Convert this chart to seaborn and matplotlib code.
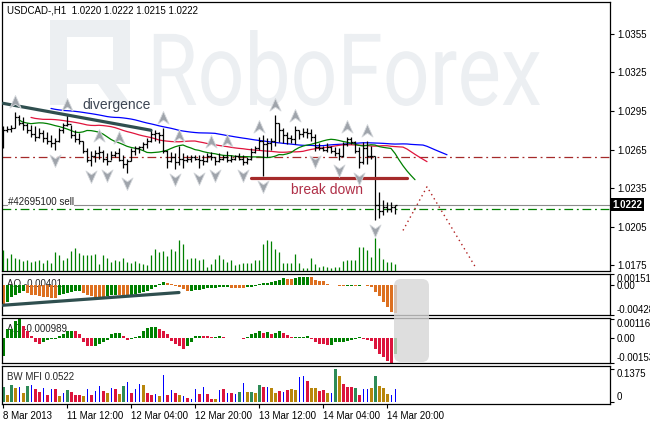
import numpy as np
import pandas as pd
import matplotlib
matplotlib.use('Agg')
import matplotlib.pyplot as plt
import seaborn as sns
from matplotlib.path import Path
from matplotlib.patches import FancyBboxPatch, Polygon, PathPatch
from matplotlib.textpath import TextPath
from matplotlib.font_manager import FontProperties
from matplotlib.transforms import offset_copy, blended_transform_factory

# USDCAD H1, 8 Mar 2013 20:00 .. 14 Mar 2013 22:00 (99 bars)
first_open = 1.0278
highs = [1.0283, 1.0283, 1.0284, 1.0294, 1.0292, 1.0290, 1.0286, 1.0284, 1.0283, 1.0282,
         1.0280, 1.0279, 1.0276, 1.0274, 1.0282, 1.0286, 1.0292, 1.0284, 1.0280, 1.0278,
         1.0272, 1.0266, 1.0264, 1.0265, 1.0268, 1.0265, 1.0262, 1.0264, 1.0264, 1.0266,
         1.0261, 1.0258, 1.0266, 1.0268, 1.0268, 1.0271, 1.0274, 1.0280, 1.0280, 1.0279,
         1.0282, 1.0265, 1.0263, 1.0262, 1.0268, 1.0262, 1.0261, 1.0261, 1.0261, 1.0261,
         1.0261, 1.0262, 1.0263, 1.0259, 1.0262, 1.0261, 1.0264, 1.0261, 1.0261, 1.0262,
         1.0261, 1.0259, 1.0266, 1.0268, 1.0275, 1.0276, 1.0274, 1.0274, 1.0292, 1.0286,
         1.0282, 1.0279, 1.0276, 1.0283, 1.0280, 1.0282, 1.0282, 1.0281, 1.0277, 1.0270,
         1.0268, 1.0270, 1.0268, 1.0267, 1.0266, 1.0271, 1.0275, 1.0275, 1.0272, 1.0267,
         1.0271, 1.0272, 1.0268, 1.0260, 1.0232, 1.0226, 1.0224, 1.0224, 1.0222]
lows = [1.0266, 1.0279, 1.0279, 1.0282, 1.0284, 1.0280, 1.0278, 1.0275, 1.0272, 1.0274,
        1.0271, 1.0269, 1.0267, 1.0265, 1.0271, 1.0278, 1.0283, 1.0274, 1.0271, 1.0269,
        1.0262, 1.0255, 1.0252, 1.0255, 1.0258, 1.0255, 1.0253, 1.0257, 1.0259, 1.0256,
        1.0251, 1.0247, 1.0256, 1.0261, 1.0262, 1.0265, 1.0266, 1.0271, 1.0272, 1.0270,
        1.0262, 1.0251, 1.0255, 1.0250, 1.0253, 1.0251, 1.0255, 1.0255, 1.0257, 1.0251,
        1.0253, 1.0255, 1.0257, 1.0253, 1.0255, 1.0257, 1.0255, 1.0255, 1.0257, 1.0257,
        1.0253, 1.0254, 1.0257, 1.0262, 1.0265, 1.0244, 1.0259, 1.0265, 1.0268, 1.0271,
        1.0270, 1.0269, 1.0270, 1.0269, 1.0273, 1.0275, 1.0274, 1.0272, 1.0264, 1.0265,
        1.0264, 1.0263, 1.0262, 1.0260, 1.0257, 1.0259, 1.0268, 1.0269, 1.0262, 1.0251,
        1.0254, 1.0254, 1.0258, 1.0210, 1.0212, 1.0214, 1.0216, 1.0216, 1.0215]
closes = [1.0280, 1.0281, 1.0282, 1.0290, 1.0286, 1.0284, 1.0280, 1.0277, 1.0275, 1.0278,
          1.0274, 1.0272, 1.0270, 1.0272, 1.0280, 1.0284, 1.0285, 1.0276, 1.0273, 1.0272,
          1.0264, 1.0257, 1.0260, 1.0262, 1.0263, 1.0258, 1.0256, 1.0261, 1.0262, 1.0257,
          1.0254, 1.0256, 1.0264, 1.0266, 1.0267, 1.0269, 1.0272, 1.0277, 1.0278, 1.0276,
          1.0264, 1.0256, 1.0259, 1.0255, 1.0258, 1.0257, 1.0258, 1.0259, 1.0258, 1.0257,
          1.0256, 1.0260, 1.0259, 1.0256, 1.0258, 1.0259, 1.0257, 1.0258, 1.0260, 1.0258,
          1.0255, 1.0258, 1.0263, 1.0266, 1.0272, 1.0269, 1.0270, 1.0272, 1.0286, 1.0280,
          1.0276, 1.0274, 1.0273, 1.0280, 1.0277, 1.0279, 1.0278, 1.0275, 1.0267, 1.0266,
          1.0265, 1.0267, 1.0264, 1.0262, 1.0260, 1.0269, 1.0273, 1.0271, 1.0264, 1.0255,
          1.0266, 1.0260, 1.0260, 1.0222, 1.0217, 1.0220, 1.0219, 1.0220, 1.0222]
tick_volume = [2100, 1300, 1700, 1300, 1200, 1000, 1100, 900, 1000, 1100,
               800, 1100, 800, 1900, 1600, 1100, 1300, 2000, 2300, 1800,
               1600, 1600, 1600, 1700, 700, 1600, 1300, 900, 1100, 1000,
               1300, 900, 800, 1000, 800, 700, 600, 1600, 2200, 1900,
               2000, 1500, 2200, 2000, 3100, 2700, 1200, 1300, 1300, 1100,
               1200, 400, 700, 1200, 1600, 1200, 900, 1100, 600, 700,
               800, 800, 800, 1100, 1100, 2700, 3100, 3000, 2200, 1900,
               800, 800, 800, 1700, 800, 300, 300, 1300, 700, 400,
               500, 400, 300, 400, 400, 1000, 1100, 1100, 1100, 2400,
               2400, 2100, 1400, 3300, 2300, 1200, 900, 900, 700]

ao = [-0.00290, -0.00248, -0.00179, -0.00138, -0.00110, -0.00090, -0.00110, -0.00138, -0.00152, -0.00166,
      -0.00173, -0.00179, -0.00186, -0.00190, -0.00138, -0.00124, -0.00110, -0.00097, -0.00090, -0.00083,
      -0.00110, -0.00138, -0.00159, -0.00173, -0.00179, -0.00186, -0.00166, -0.00152, -0.00145, -0.00152,
      -0.00155, -0.00159, -0.00138, -0.00124, -0.00117, -0.00104, -0.00090, -0.00055, -0.00028, 0.00007,
      0.00041, 0.00028, 0.00014, -0.00014, -0.00035, -0.00062, -0.00090, -0.00083, -0.00076, -0.00069,
      -0.00062, -0.00048, -0.00044, -0.00039, -0.00035, -0.00030, -0.00025, -0.00041, -0.00046, -0.00048,
      -0.00051, -0.00035, -0.00025, -0.00014, 0.00014, 0.00025, 0.00028, 0.00035, 0.00048, 0.00069,
      0.00090, 0.00083, 0.00080, 0.00090, 0.00104, 0.00106, 0.00115, 0.00110, 0.00069, 0.00055,
      0.00046, 0.00014, -0.00004, -0.00008, -0.00014, -0.00018, -0.00015, -0.00014, -0.00017, -0.00012,
      -0.00010, -0.00021, -0.00035, -0.00097, -0.00166, -0.00242, -0.00311, -0.00380, -0.00401]
ac = [-0.001096, 0.000548, 0.000579, 0.001035, 0.001169, 0.000731, 0.000426, 0.000122, -0.000244, -0.000365,
      -0.000244, -0.000122, -0.000061, -0.000030, 0.000122, 0.000244, 0.000426, 0.000457, 0.000426, 0.000244,
      -0.000244, -0.000487, -0.000518, -0.000487, -0.000365, -0.000244, -0.000122, 0.000244, 0.000305, 0.000317,
      0.000122, -0.000122, -0.000061, 0.000079, 0.000152, 0.000426, 0.000609, 0.000670, 0.000682, 0.000548,
      0.000426, 0.000244, -0.000183, -0.000365, -0.000518, -0.000670, -0.000487, -0.000244, 0.000122, 0.000152,
      0.000122, 0.000110, 0.000091, 0.000097, 0.000104, 0.000061, 0.000030, 0.000024, 0.000018, 0.000012,
      -0.000049, 0.000079, 0.000244, 0.000335, 0.000457, 0.000305, 0.000365, 0.000244, 0.000305, 0.000426,
      0.000335, 0.000183, 0.000049, 0.000061, 0.000073, 0.000085, 0.000152, -0.000061, -0.000244, -0.000365,
      -0.000396, -0.000426, -0.000414, -0.000274, -0.000262, -0.000231, -0.000171, -0.000104, -0.000061, 0.000061,
      -0.000030, -0.000122, -0.000164, -0.000670, -0.000974, -0.001188, -0.001401, -0.001530, -0.000989]
bw_mfi = [0.0615, 0.0299, 0.0709, 0.0586, 0.0615, 0.0381, 0.0656, 0.0709, 0.0521, 0.0410,
          0.0574, 0.0299, 0.0545, 0.0545, 0.0246, 0.0381, 0.0504, 0.0410, 0.0299, 0.0299,
          0.0246, 0.0545, 0.0299, 0.0439, 0.0656, 0.0451, 0.0381, 0.0574, 0.0545, 0.0340,
          0.0644, 0.0820, 0.0381, 0.0521, 0.0750, 0.0709, 0.0381, 0.0275, 0.0316, 0.0246,
          0.1119, 0.0299, 0.0480, 0.0381, 0.0299, 0.0246, 0.0176, 0.0135, 0.0545, 0.0316,
          0.0615, 0.0316, 0.0135, 0.0111, 0.0480, 0.0521, 0.0381, 0.0381, 0.0328, 0.0410,
          0.0779, 0.0410, 0.0410, 0.0381, 0.0709, 0.0615, 0.0615, 0.0574, 0.0381, 0.0463,
          0.0410, 0.0504, 0.0545, 0.0504, 0.1025, 0.1066, 0.0861, 0.0586, 0.0586, 0.0439,
          0.0480, 0.0381, 0.0381, 0.1375, 0.1054, 0.0750, 0.0615, 0.0615, 0.0586, 0.0299,
          0.0545, 0.0545, 0.0586, 0.1054, 0.0656, 0.0586, 0.0340, 0.0299, 0.0522]
# G = green, F = fade, B = fake, S = squat
mfi_zone = ("GFGFBFGBSS" "BSBSFBGSSS" "FBSBBSFBSF" "GBSBBFSSBF" "BSBSFBSBBS"
            "BSSFBSBSBG" "BFGFGSBFFS" "BSFFBBSFFS" "SFBGFSSSGS" "BBFGFFFBB")

fractal_up_bars = [3, 16, 24, 29, 40, 44, 52, 56, 64, 68, 73, 86, 91]
fractal_down_bars = [13, 22, 26, 31, 43, 49, 53, 60, 65, 78, 84, 89, 93]

time_ticks = [0, 16, 32, 48, 64, 80, 96]
time_labels = ['8 Mar 2013', '11 Mar 12:00', '12 Mar 04:00', '12 Mar 20:00',
               '13 Mar 12:00', '14 Mar 04:00', '14 Mar 20:00']
price_ticks = [1.0175, 1.0205, 1.0235, 1.0265, 1.0295, 1.0325, 1.0355]

bid = 1.0222
order_price = 1.0219
pending_level = 1.0259
breakdown_level = 1.0243
breakdown_bars = [62, 101]
divergence_bars = [0, 37]
divergence_price = [1.0301, 1.0280]
ao_div_bars = [0, 44]
ao_div_values = [-0.00290, -0.00110]
forecast_bars = [100, 106, 118]
forecast_price = [1.0202, 1.0236, 1.0174]

# alligator: (period, shift, level at left edge, colour)
alligator = [(34, 13, 1.0297, '#0000ff'), (21, 8, 1.0290, '#e0143c'), (8, 5, 1.0288, '#008000')]

sns.set_theme(style='white')
plt.rcParams['font.family'] = ['Liberation Sans', 'DejaVu Sans']
plt.rcParams['axes.linewidth'] = 0.9
plt.rcParams['axes.edgecolor'] = 'black'

n = len(closes)
x = np.arange(n)
highs = np.array(highs)
lows = np.array(lows)
closes = np.array(closes)
opens = np.r_[first_open, closes[:-1]]
median = (highs + lows) / 2

W, H = 650, 422
fig = plt.figure(figsize=(W / 100, H / 100), dpi=100)


def panel(x0, y0, x1, y1):
    return fig.add_axes([x0 / W, 1 - y1 / H, (x1 - x0) / W, (y1 - y0) / H])


ax = panel(2, 2, 610, 271)
ax_ao = panel(2, 274, 610, 315)
ax_ac = panel(2, 318, 610, 363)
ax_mfi = panel(2, 366, 610, 404)

# ---- main chart ----
ax_vol = ax.twinx()
ax_vol.set_ylim(0, 26900)
ax_vol.axis('off')
ax_vol.vlines(x, 0, tick_volume, color='#008000', lw=0.9)

for a in (ax, ax_ao, ax_ac, ax_mfi):
    a.set_xlim(-0.25, 151.75)
    a.yaxis.tick_right()
    a.tick_params(axis='y', left=False, right=True, labelleft=False, labelright=True,
                  length=3, width=0.8, pad=2, labelsize=7, colors='black')
    a.tick_params(axis='x', bottom=False, labelbottom=False)
    for s in a.spines.values():
        s.set_color('black')

ax.set_ylim(1.01704, 1.03799)
ax.set_yticks(price_ticks)
ax.set_yticklabels([f'{p:.4f}' for p in price_ticks])


# RoboForex watermark (logo block + word), placed from pixel spots into axes fractions
def px(xp, yp):
    return ((xp - 2) / 608, (271 - yp) / 269)


wm = '#eceff2'
logo_parts = [
    [(50, 20), (130, 20), (130, 37), (50, 37)],
    [(50, 20), (67, 20), (67, 105), (50, 105)],
    [(113, 20), (130, 20), (130, 84), (113, 84)],
    [(67, 70), (130, 70), (130, 84), (67, 84)],
    [(98, 84), (116, 84), (131, 105), (113, 105)],
]
for part in logo_parts:
    ax.add_patch(Polygon([px(*p) for p in part], closed=True, fc=wm, ec='none',
                         transform=ax.transAxes, zorder=0))

word = TextPath((0, 0), 'RoboForex', size=100, prop=FontProperties(family='Roboto'))
v = word.vertices
sx = (540 - 147) / (v[:, 0].max() - v[:, 0].min())
sy = (105 - 30) / v[:, 1].max()
wx = 147 + (v[:, 0] - v[:, 0].min()) * sx
wy = 105 - v[:, 1] * sy
word_axes = np.column_stack([(wx - 2) / 608, (271 - wy) / 269])
ax.add_patch(PathPatch(Path(word_axes, word.codes), fc=wm, ec='none',
                       transform=ax.transAxes, zorder=0))

for period, shift, start, color in alligator:
    smma = pd.Series(np.r_[start, median]).ewm(alpha=1.0 / period, adjust=False).mean()
    sns.lineplot(x=np.arange(len(smma)) + shift - 1, y=smma.values, ax=ax,
                 color=color, lw=0.9, zorder=2)

ax.vlines(x, lows, highs, color='black', lw=0.9, zorder=3)
ax.hlines(opens, x - 0.45, x, color='black', lw=0.9, zorder=3)
ax.hlines(closes, x, x + 0.45, color='black', lw=0.9, zorder=3)

dash = (0, (7, 3, 1.5, 3))
ax.axhline(pending_level, color='#a52a2a', lw=0.9, ls=dash, zorder=1)
ax.axhline(order_price, color='#008000', lw=0.9, ls=dash, zorder=1)
ax.axhline(bid, color='#8c8c8c', lw=0.8, zorder=1)

sns.lineplot(x=divergence_bars, y=divergence_price, ax=ax, color='#2f4f4f', lw=2.3, zorder=4)
sns.lineplot(x=breakdown_bars, y=[breakdown_level] * 2, ax=ax, color='#a52a2a', lw=2.3, zorder=4)
ax.plot(forecast_bars, forecast_price, color='#b22222', lw=1.0, ls=(0, (1, 2.5)), zorder=4)

dart_up = Path([(0, 1), (0.8, -0.8), (0, -0.25), (-0.8, -0.8), (0, 1)],
               [Path.MOVETO, Path.LINETO, Path.LINETO, Path.LINETO, Path.CLOSEPOLY])
dart_down = Path(dart_up.vertices * [1, -1], dart_up.codes)
ax.plot(fractal_up_bars, highs[fractal_up_bars], ls='none', marker=dart_up, ms=10,
        mfc='#9fa4ab', mec='#d4d7db', mew=0.6, zorder=5,
        transform=offset_copy(ax.transData, fig=fig, y=10, units='dots'))
ax.plot(fractal_down_bars, lows[fractal_down_bars], ls='none', marker=dart_down, ms=10,
        mfc='#9fa4ab', mec='#d4d7db', mew=0.6, zorder=5,
        transform=offset_copy(ax.transData, fig=fig, y=-10, units='dots'))

ax.text(0.008, 0.967, 'USDCAD-,H1  1.0220 1.0222 1.0215 1.0222', transform=ax.transAxes,
        fontsize=7, va='center', ha='left', color='black')
ax.text(19.75, 1.0300, 'divergence', fontsize=10, color='#3d4654', va='center', ha='left', zorder=6)
ax.text(81, 1.02335, 'break down', fontsize=10, color='#b03048', va='center', ha='center', zorder=6)
ax.text(1.25, bid, '#42695100 sell', fontsize=7, color='#202020', va='center', ha='left', zorder=6,
        transform=offset_copy(ax.transData, fig=fig, y=3, units='dots'),
        bbox=dict(fc='white', ec='none', pad=0.3))
tr = blended_transform_factory(ax.transAxes, ax.transData)
ax.text(1.004, bid, '1.0222', transform=tr, fontsize=7, fontweight='bold', color='white',
        va='center', ha='left', bbox=dict(fc='black', ec='none', pad=1.2), zorder=7, clip_on=False)

# ---- Awesome Oscillator ----
ao_arr = np.array(ao)
ao_rise = np.r_[False, ao_arr[1:] >= ao_arr[:-1]]
ax_ao.bar(x, ao_arr, width=0.75, color=np.where(ao_rise, '#008000', '#dd7020'), lw=0, zorder=2)
sns.lineplot(x=ao_div_bars, y=ao_div_values, ax=ax_ao, color='#2f4f4f', lw=2.3, zorder=4)
ax_ao.set_ylim(-0.00428, 0.00152)
ax_ao.set_yticks([0.00151, 0.0, -0.00428])
ax_ao.set_yticklabels(['0.00151', '0.00', '-0.00428'])
ax_ao.text(0.008, 0.76, 'AO -0.00401', transform=ax_ao.transAxes, fontsize=7, va='center', zorder=1)

# ---- Accelerator Oscillator ----
ac_arr = np.array(ac)
ac_rise = np.r_[True, ac_arr[1:] >= ac_arr[:-1]]
ax_ac.bar(x, ac_arr, width=0.75, color=np.where(ac_rise, '#008000', '#dc143c'), lw=0, zorder=2)
ax_ac.set_ylim(-0.00155, 0.00125)
ax_ac.set_yticks([0.001169, 0.0, -0.00153])
ax_ac.set_yticklabels(['0.001169', '0.00', '-0.00153'])
ax_ac.text(0.008, 0.76, 'AC -0.000989', transform=ax_ac.transAxes, fontsize=7, va='center', zorder=1)

# ---- BW MFI ----
zone_color = {'G': '#2e8b57', 'F': '#b8860b', 'B': '#0000ff', 'S': '#dc143c'}
zones = list(mfi_zone)
ax_mfi.bar(x, bw_mfi, width=[0.25 if z == 'B' else 0.75 for z in zones],
           color=[zone_color[z] for z in zones], lw=0, zorder=2)
ax_mfi.set_ylim(-0.008, 0.148)
ax_mfi.set_yticks([0.1375, 0.0])
ax_mfi.set_yticklabels(['0.1375', '0'])
ax_mfi.text(0.008, 0.71, 'BW MFI 0.0522', transform=ax_mfi.transAxes, fontsize=7, va='center', zorder=1)

for a in (ax_ao, ax_ac, ax_mfi):
    labs = a.get_yticklabels()
    labs[0].set_va('top')
    labs[-1].set_va('bottom')

ax_mfi.set_xticks(time_ticks)
ax_mfi.set_xticklabels(time_labels, ha='left')
ax_mfi.tick_params(axis='x', bottom=True, labelbottom=True, length=3, width=0.8, pad=2,
                   labelsize=7, colors='black')

# translucent marker box over the last AO/AC bars
ov = fig.add_axes([0, 0, 1, 1], zorder=10)
ov.set_xlim(0, W)
ov.set_ylim(H, 0)
ov.axis('off')
ov.patch.set_alpha(0)
ov.add_patch(FancyBboxPatch((394, 279), 35, 83, boxstyle='round,pad=0,rounding_size=7',
                            fc='#d6d6d6', ec='none', alpha=0.8))

fig.savefig('out.png', dpi=100, facecolor='white')
